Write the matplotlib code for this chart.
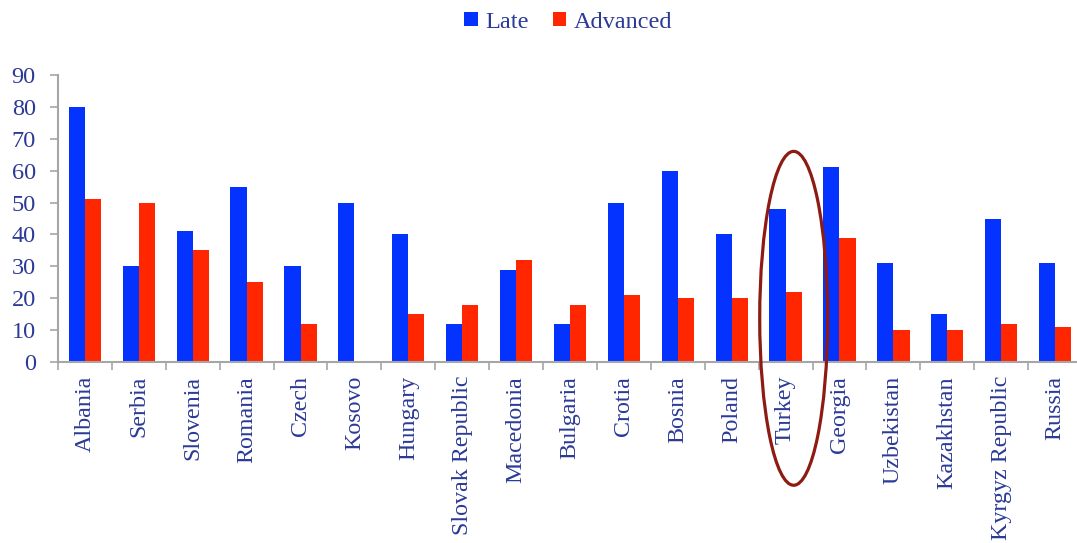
import numpy as np
import matplotlib
matplotlib.use("Agg")
import matplotlib.pyplot as plt
from matplotlib.patches import Ellipse

# ── data ──────────────────────────────────────────────────────────────────────
countries = ["Albania", "Serbia", "Slovenia", "Romania", "Czech", "Kosovo",
             "Hungary", "Slovak Republic", "Macedonia", "Bulgaria", "Crotia",
             "Bosnia", "Poland", "Turkey", "Georgia", "Uzbekistan",
             "Kazakhstan", "Kyrgyz Republic", "Russia"]
late     = [80, 30, 41, 55, 30, 50, 40, 12, 29, 12, 50, 60, 40, 48, 61, 31, 15, 45, 31]
advanced = [51, 50, 35, 25, 12, 0, 15, 18, 32, 18, 21, 20, 20, 22, 39, 10, 10, 12, 11]
yticks   = list(range(0, 100, 10))
highlight = "Turkey"

# ── style ─────────────────────────────────────────────────────────────────────
plt.rcParams["font.family"] = ["Liberation Serif", "DejaVu Serif"]
txt_col  = "#2B3A96"
blue     = "#0433FF"
red      = "#FF2600"
axis_col = "#A6A6A6"

fig = plt.figure(figsize=(10.77, 5.43), dpi=100)
ax = fig.add_axes([58 / 1077, 1 - 362 / 543, 1024 / 1077, 287 / 543])

x = np.arange(len(countries))
w = 0.3
ax.bar(x - w / 2, late, w, color=blue, label="Late")
ax.bar(x + w / 2, advanced, w, color=red, label="Advanced")

ax.set_xlim(-0.5, len(countries) - 0.5)
ax.set_ylim(0, 90)
ax.set_yticks(yticks)
ax.set_yticklabels([str(v) for v in yticks], fontsize=17.5, color=txt_col)

# category boundaries as ticks, labels at centres
ax.set_xticks(np.arange(len(countries) + 1) - 0.5)
ax.set_xticklabels([])
ax.set_xticks(x, minor=True)
ax.set_xticklabels(countries, minor=True, rotation=90, fontsize=17.3,
                   color=txt_col, va="top", ha="center")
ax.tick_params(axis="x", which="minor", length=0, pad=10)
ax.tick_params(axis="x", which="major", length=6, color=axis_col, width=1.2)
ax.tick_params(axis="y", length=6, color=axis_col, width=1.2, pad=10)

for s in ["top", "right"]:
    ax.spines[s].set_visible(False)
for s in ["left", "bottom"]:
    ax.spines[s].set_color(axis_col)
    ax.spines[s].set_linewidth(1.5)

# highlight ellipse around Turkey
i = countries.index(highlight)
ell = Ellipse((i + 0.15, 13.7), 1.26, 104.7, fill=False,
              edgecolor="#8E1B12", linewidth=2.3, clip_on=False, zorder=5)
ax.add_patch(ell)

fig.legend(loc="center", bbox_to_anchor=(568 / 1077, 1 - 22 / 543),
           ncol=2, frameon=False, fontsize=17.5, labelcolor=txt_col,
           handlelength=0.55, handleheight=0.55, handletextpad=0.3,
           columnspacing=1.0)

fig.savefig("out.png", dpi=100)
